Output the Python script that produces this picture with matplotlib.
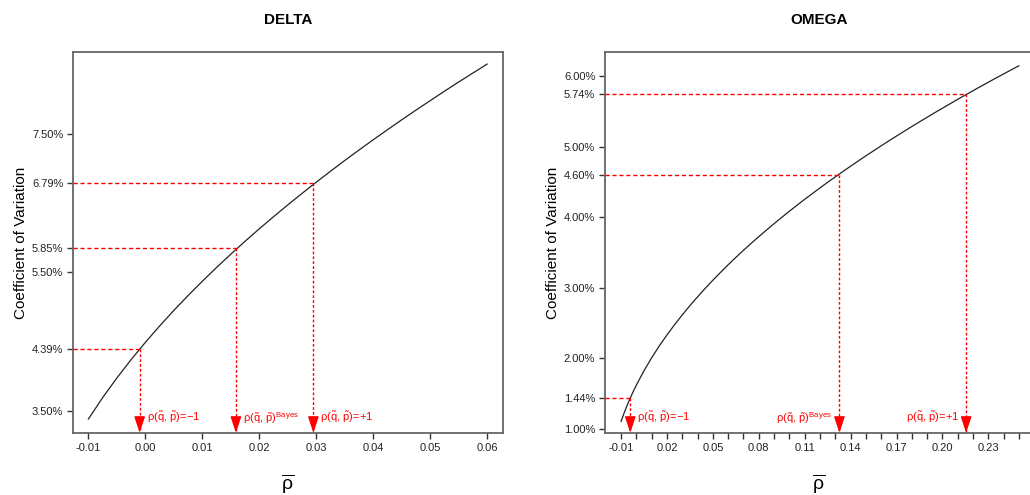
import numpy as np
import matplotlib
matplotlib.use('Agg')
import matplotlib.pyplot as plt

plt.rcParams['font.family'] = ['Liberation Sans', 'DejaVu Sans']
plt.rcParams['mathtext.fontset'] = 'custom'
plt.rcParams['mathtext.rm'] = 'Liberation Sans'
plt.rcParams['mathtext.it'] = 'Liberation Sans:italic'
plt.rcParams['mathtext.bf'] = 'Liberation Sans:bold'

# DELTA panel (CV in %)
delta_rho = [-0.0100, -0.0075, -0.0050, -0.0025, 0.0000, 0.0025, 0.0050,
             0.0075, 0.0100, 0.0125, 0.0150, 0.0175, 0.0200, 0.0225,
             0.0250, 0.0275, 0.0300, 0.0325, 0.0350, 0.0375, 0.0400,
             0.0425, 0.0450, 0.0475, 0.0500, 0.0525, 0.0550, 0.0575, 0.0600]
delta_cv = [3.382, 3.690, 3.974, 4.239, 4.488, 4.724, 4.949,
            5.164, 5.370, 5.569, 5.761, 5.947, 6.127, 6.302,
            6.472, 6.638, 6.800, 6.958, 7.113, 7.264, 7.412,
            7.557, 7.700, 7.840, 7.977, 8.113, 8.246, 8.376, 8.505]
delta_mark_rho = [-0.001, 0.0159, 0.0295]
delta_mark_cv = [4.39, 5.85, 6.79]
delta_yticks = [3.50, 4.39, 5.50, 5.85, 6.79, 7.50]
delta_xticks = [-0.01, 0.00, 0.01, 0.02, 0.03, 0.04, 0.05, 0.06]

# OMEGA panel
omega_rho = [-0.010, -0.008, -0.006, -0.004, -0.002, 0.000, 0.005, 0.010,
             0.015, 0.020, 0.025, 0.030, 0.035, 0.040, 0.045, 0.050, 0.055,
             0.060, 0.065, 0.070, 0.075, 0.080, 0.085, 0.090, 0.095, 0.100,
             0.105, 0.110, 0.115, 0.120, 0.125, 0.130, 0.135, 0.140, 0.145,
             0.150, 0.155, 0.160, 0.165, 0.170, 0.175, 0.180, 0.185, 0.190,
             0.195, 0.200, 0.205, 0.210, 0.215, 0.220, 0.225, 0.230, 0.235,
             0.240, 0.245, 0.250]
omega_cv = [1.107, 1.227, 1.337, 1.438, 1.533, 1.622, 1.826, 2.009,
            2.177, 2.332, 2.478, 2.616, 2.747, 2.872, 2.992, 3.107, 3.218,
            3.326, 3.430, 3.531, 3.629, 3.724, 3.817, 3.908, 3.997, 4.084,
            4.169, 4.253, 4.334, 4.415, 4.494, 4.571, 4.647, 4.722, 4.796,
            4.869, 4.940, 5.011, 5.081, 5.149, 5.217, 5.284, 5.350, 5.415,
            5.480, 5.543, 5.606, 5.669, 5.730, 5.791, 5.852, 5.911, 5.971,
            6.029, 6.087, 6.145]
omega_mark_rho = [-0.004, 0.1327, 0.2155]
omega_mark_cv = [1.44, 4.60, 5.74]
omega_yticks = [1.00, 1.44, 2.00, 3.00, 4.00, 4.60, 5.00, 5.74, 6.00]
omega_xticks = [-0.01, 0.00, 0.01, 0.02, 0.03, 0.04, 0.05, 0.06, 0.07, 0.08,
                0.09, 0.10, 0.11, 0.12, 0.13, 0.14, 0.15, 0.16, 0.17, 0.18,
                0.19, 0.20, 0.21, 0.22, 0.23, 0.24, 0.25]

mark_labels = [r'ρ$(\tilde{\mathrm{q}},\,\tilde{\mathrm{p}})$=−1',
               r'ρ$(\tilde{\mathrm{q}},\,\tilde{\mathrm{p}})^{\mathrm{Bayes}}$',
               r'ρ$(\tilde{\mathrm{q}},\,\tilde{\mathrm{p}})$=+1']


def draw_panel(ax, rho, cv, mrho, mcv, yticks, xticks, xlabels, title,
               xlim, ylim, sides):
    ax.set_xlim(*xlim)
    ax.set_ylim(*ylim)
    ax.plot(rho, cv, color='#222222', lw=0.9)

    for x, y, lab, side in zip(mrho, mcv, mark_labels, sides):
        ax.plot([xlim[0], x], [y, y], color='red', lw=1, ls=(0, (3, 2)))
        ax.plot([x, x], [y, ylim[0]], color='red', lw=1, ls=(0, (2, 1.5)))
        ax.annotate('', xy=(x, 0), xycoords=('data', 'axes fraction'),
                    xytext=(0, 11), textcoords='offset points',
                    arrowprops=dict(arrowstyle='-|>,head_length=1.0,head_width=0.33',
                                    color='red', lw=1, shrinkA=0, shrinkB=0,
                                    mutation_scale=10))
        dx = 5 if side == 'left' else -5
        ax.annotate(lab, xy=(x, 0.04), xycoords=('data', 'axes fraction'),
                    xytext=(dx, 0), textcoords='offset points',
                    ha=side, va='center', color='red', fontsize=8)

    ax.set_yticks(yticks)
    ax.set_yticklabels(['%.2f%%' % v for v in yticks])
    ax.set_xticks(xticks)
    ax.set_xticklabels(xlabels)
    ax.tick_params(direction='out', length=4, width=1, labelsize=8,
                   color='#333333', labelcolor='#222222', pad=3)
    for s in ax.spines.values():
        s.set_color('#666666')
        s.set_linewidth(1.3)
    ax.set_title(title, fontsize=11, fontweight='bold', pad=20)
    ax.set_ylabel('Coefficient of Variation', fontsize=11, labelpad=3)
    ax.set_xlabel(r'$\overline{\mathrm{\rho}}$', fontsize=14, labelpad=14)


fig = plt.figure(figsize=(10.3, 4.95), dpi=100)
ax1 = fig.add_axes([0.0709, 0.1253, 0.4175, 0.7697])
ax2 = fig.add_axes([0.5874, 0.1253, 0.4155, 0.7697])

draw_panel(ax1, delta_rho, delta_cv, delta_mark_rho, delta_mark_cv,
           delta_yticks, delta_xticks, ['%.2f' % v for v in delta_xticks],
           'DELTA', (-0.0127, 0.0628), (3.18, 8.68),
           ['left', 'left', 'left'])

omega_labels = ['%.2f' % v if i % 3 == 0 else '' for i, v in enumerate(omega_xticks)]
draw_panel(ax2, omega_rho, omega_cv, omega_mark_rho, omega_mark_cv,
           omega_yticks, omega_xticks, omega_labels,
           'OMEGA', (-0.0205, 0.2592), (0.943, 6.34),
           ['left', 'right', 'right'])

fig.savefig('out.png', dpi=100)
